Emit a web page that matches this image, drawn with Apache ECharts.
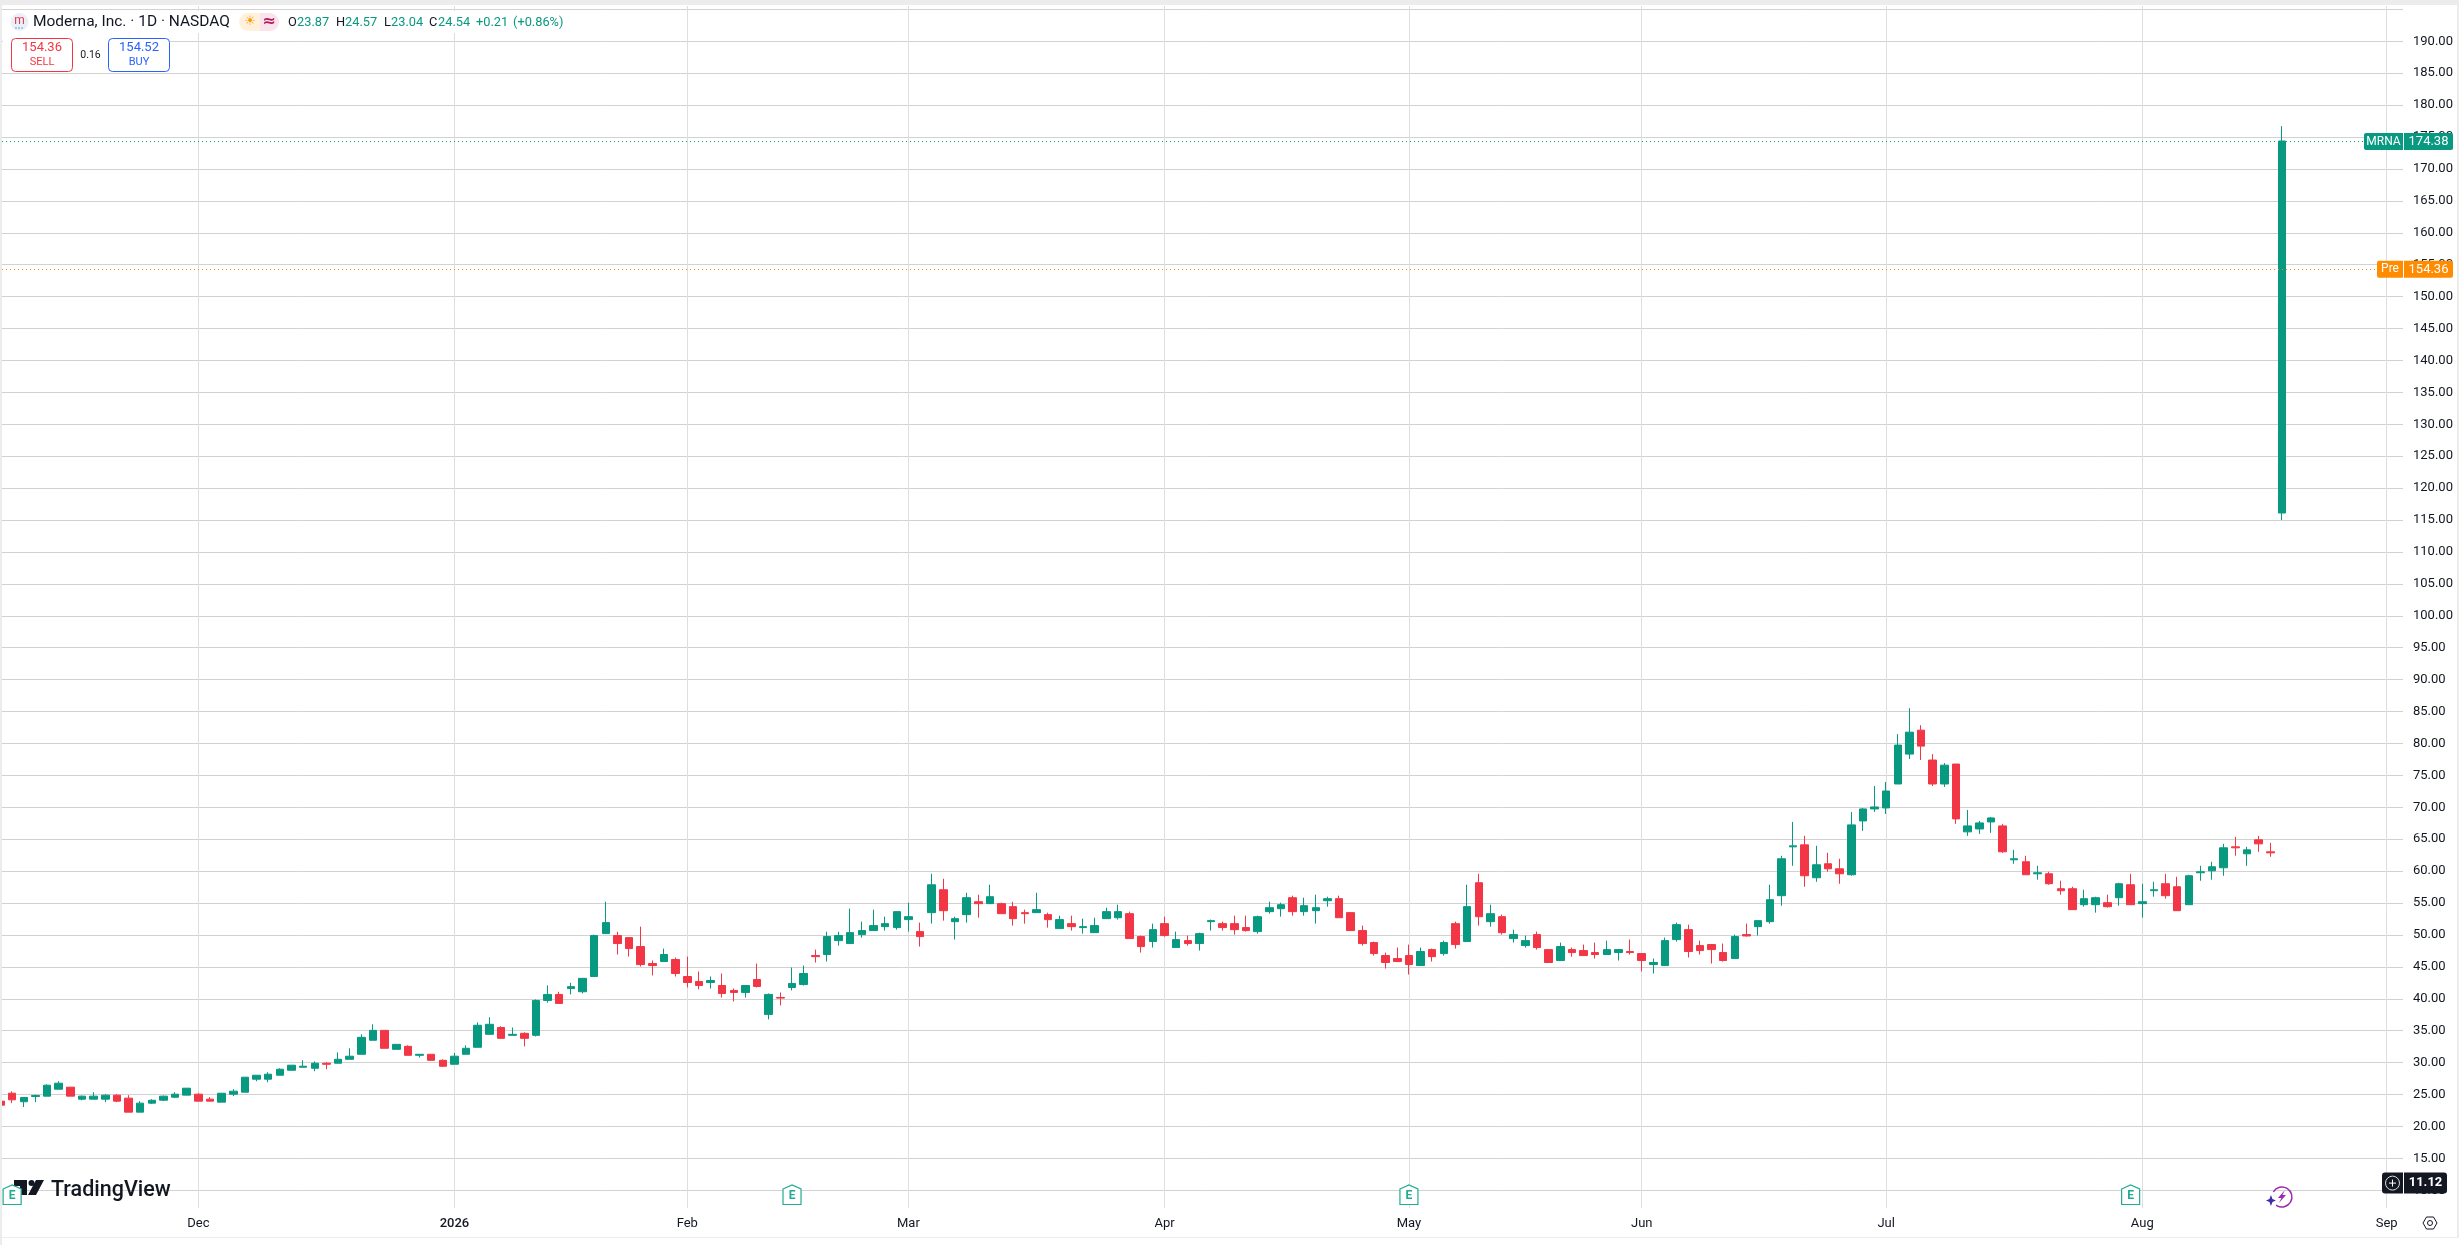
<!DOCTYPE html>
<html><head><meta charset="utf-8">
<style>html,body{margin:0;padding:0;background:#fff;overflow:hidden}#c{width:2459px;height:1245px}</style>
<script src="https://cdn.jsdelivr.net/npm/echarts@6/dist/echarts.min.js"></script>
</head><body><div id="c"></div>
<script>
const opens=[23.96,25.2,23.87,24.69,24.74,25.83,26.15,24.27,24.27,24.27,
24.9,24.43,22.24,23.65,24.11,24.58,24.9,25.05,24.27,23.8,
25.05,25.36,27.4,27.4,28.02,28.8,29.27,29.11,29.9,29.9,
30.52,31.3,33.5,35.05,32.08,32.55,31.14,31.3,30.36,29.74,
31.3,32.4,34.43,35.5,34.27,34.58,34.27,39.74,40.68,41.6,
41.1,43.49,50.21,49.9,49.58,48.18,45.52,45.83,46.15,43.49,
42.7,42.55,42.08,41.3,40.99,43.02,37.55,40.2,41.77,42.24,
46.77,46.93,49.11,48.65,50.05,50.68,51.3,51.15,52.4,50.52,
53.49,57.08,52.08,53.18,55.2,54.9,54.9,54.43,53.49,53.49,
53.18,50.99,51.77,51.15,50.36,52.55,52.7,53.33,49.74,48.96,
51.77,48.02,49.11,48.65,52.08,51.77,51.77,51.15,50.52,53.65,
54.11,55.83,53.65,53.8,55.36,55.68,53.49,50.68,48.8,46.77,
46.3,46.77,45.2,47.7,47.08,51.77,48.96,58.18,52.08,52.86,
49.43,48.33,50.05,47.7,45.99,47.7,47.55,47.24,46.93,47.24,
47.4,47.08,45.36,45.2,49.27,50.83,48.33,48.49,47.24,46.3,
50.05,51.3,52.08,56.15,63.8,64.11,58.96,61.15,60.36,59.43,
67.86,69.74,69.9,73.65,78.33,82.08,77.4,73.65,76.77,66.15,
66.6,67.7,67.08,61.77,61.46,59.58,59.58,57.24,57.24,54.74,
54.74,55.05,55.83,57.86,54.9,56.93,58.02,57.55,54.74,59.74,
60.05,60.52,63.8,62.71,64.9,63.02,116.1];
const closes=[23.33,24.17,24.54,24.85,26.46,26.77,24.74,24.74,24.74,24.9,
23.96,22.24,23.65,24.1,24.74,25.05,25.99,23.96,23.96,25.2,
25.52,27.71,28.02,28.18,28.96,29.59,29.43,29.9,29.74,30.52,
31.0,33.96,35.05,32.24,32.86,31.14,31.3,30.36,29.43,31.0,
32.24,35.85,36.0,33.8,34.43,33.8,39.74,40.68,39.27,41.9,
43.2,49.9,51.93,48.65,47.86,45.36,45.2,46.93,43.96,42.55,
42.08,42.86,40.83,40.99,42.08,41.93,40.68,40.1,42.4,43.96,
46.6,49.74,49.9,50.36,50.68,51.46,51.77,53.65,52.86,49.74,
57.86,53.8,52.55,55.83,54.9,55.99,53.33,52.55,53.33,53.96,
52.4,52.4,51.3,51.3,51.46,53.65,53.65,49.43,48.18,50.83,
49.9,49.27,48.65,50.2,52.24,51.15,50.83,50.68,52.86,54.27,
54.74,53.65,54.58,54.27,55.68,52.7,50.68,48.65,47.08,45.68,
45.83,45.36,47.4,46.6,48.8,48.49,54.43,52.86,53.33,50.36,
50.05,49.11,48.02,45.68,48.18,47.24,46.77,46.93,47.7,47.7,
47.24,45.99,45.68,49.11,51.61,47.4,47.55,47.7,45.99,49.74,
49.84,52.24,55.52,61.93,63.96,59.27,60.99,60.36,59.58,67.24,
69.74,70.05,72.55,79.74,81.77,79.58,73.65,76.6,68.18,67.08,
67.55,68.33,63.02,61.93,59.43,59.74,58.02,56.93,53.96,55.68,
55.83,54.43,58.02,54.74,55.2,57.08,56.15,53.8,59.27,59.9,
60.68,63.65,63.65,63.33,64.27,62.86,174.38];
const highs=[23.96,25.5,24.57,25.0,26.6,27.08,26.15,24.84,25.36,25.05,
25.05,24.9,23.96,24.27,24.84,25.36,25.99,25.2,24.58,25.2,
25.83,27.71,28.02,28.49,29.11,29.59,30.36,30.2,30.05,31.6,
32.24,34.43,36.0,35.05,32.86,32.7,31.3,31.3,30.5,31.5,
32.7,36.3,37.1,35.7,35.5,34.74,39.9,42.1,41.1,42.5,
43.2,50.05,55.2,50.5,49.58,51.3,45.99,47.86,46.46,46.6,
44.27,43.49,43.96,41.6,42.08,45.52,40.83,40.99,44.9,45.2,
47.7,50.5,50.5,54.11,52.08,53.96,52.86,53.65,55.05,51.93,
59.58,58.8,52.86,56.6,56.3,57.86,55.05,55.2,53.96,56.6,
53.49,53.02,53.02,52.55,52.7,54.27,54.74,53.65,49.9,51.77,
52.86,50.52,49.9,50.36,52.4,52.08,53.02,53.02,53.02,55.2,
55.05,56.15,55.83,56.3,55.99,56.15,53.49,51.46,48.96,47.24,
48.02,48.49,48.02,47.86,49.11,52.08,57.86,59.58,54.74,53.18,
50.83,49.9,50.52,47.7,48.8,48.02,48.49,48.8,49.11,47.7,
49.27,47.08,46.3,49.58,51.93,51.61,49.11,48.49,48.65,50.05,
51.77,52.24,57.86,62.4,67.7,65.52,63.96,62.86,61.93,69.27,
69.9,73.33,73.96,81.46,85.52,82.86,78.33,76.93,76.77,69.58,
67.86,68.49,67.4,63.33,62.4,60.83,59.9,58.49,57.55,57.08,
55.99,56.3,58.18,59.58,58.02,58.33,59.58,59.11,59.43,60.83,
61.46,64.27,65.36,63.8,65.52,64.43,176.7];
const lows=[23.33,23.65,23.04,23.8,24.74,25.83,24.74,24.1,24.27,23.8,
23.8,22.24,22.24,23.5,23.96,24.43,24.9,23.96,23.96,23.8,
24.74,25.36,27.08,26.93,28.02,28.8,29.27,28.65,28.96,29.9,
30.52,31.3,33.5,32.24,32.08,31.14,30.8,30.36,29.3,29.74,
31.3,32.4,34.43,33.8,34.27,32.55,34.1,39.4,39.27,40.68,
40.83,43.49,50.21,46.93,46.6,45.05,43.65,45.83,43.49,41.77,
41.46,41.6,40.2,39.58,40.2,41.77,36.77,38.96,41.3,42.08,
45.68,45.83,48.33,48.65,49.58,50.68,50.68,50.83,50.52,48.18,
51.77,52.24,49.27,51.93,52.7,54.9,53.33,51.46,51.77,53.49,
51.15,50.99,50.68,50.2,50.36,52.55,52.4,49.43,47.24,48.02,
49.74,48.02,48.33,47.55,50.68,50.68,50.05,50.52,50.2,53.33,
52.86,53.02,53.02,51.77,54.43,52.7,50.68,48.33,46.77,44.74,
45.83,43.8,45.2,45.83,46.77,47.86,48.96,51.46,51.3,50.05,
48.8,48.02,47.7,45.68,45.99,46.6,46.77,46.3,46.93,45.99,
46.93,44.27,43.96,45.2,48.96,46.46,46.93,45.52,45.83,46.3,
49.74,49.9,51.77,54.58,60.83,57.55,58.33,59.9,58.02,59.27,
66.3,69.27,68.96,73.65,77.55,77.4,73.33,73.18,67.4,65.52,
65.83,65.99,62.86,61.15,59.43,58.65,57.86,56.3,53.96,54.43,
53.49,54.27,54.58,54.74,52.7,55.99,55.68,53.8,54.74,58.49,
58.65,59.27,62.4,60.83,63.02,62.24,115.0];
const monthIndex=[17,39,59,78,100,121,141,162,184,205];
const monthLabels=['Dec','2026','Feb','Mar','Apr','May','Jun','Jul','Aug','Sep'];
const priceLines=[10,15,20,25,30,35,40,45,50,55,60,65,70,75,80,85,90,95,100,105,110,115,120,125,130,135,140,145,150,155,160,165,170,175,180,185,190,195];
const priceLabels=priceLines.slice(0,-1);
const lastPrice=174.38, prePrice=154.36, crossPrice=11.12;
const earningsIndex=[1,68,121,183];

const candles=opens.map((o,i)=>[i,o,closes[i],lows[i],highs[i]]);
const UP='#089981',DOWN='#F23645',PRE='#FF8C00',INK='#131722';
const FONT='Roboto, "Liberation Sans", sans-serif';
const chart=echarts.init(document.getElementById('c'),null,{renderer:'canvas'});
chart.setOption({
 animation:false,backgroundColor:'#ffffff',
 grid:{left:2,right:56,top:6,bottom:37},
 xAxis:{type:'value',min:0.129,max:206.4,
  axisLine:{show:false},
  axisTick:{show:false,customValues:monthIndex},
  splitLine:{show:true,lineStyle:{color:'#dedede',width:1}},
  axisLabel:{customValues:monthIndex,margin:9,color:INK,fontSize:13,fontFamily:FONT,
    formatter:v=>{const s=monthLabels[monthIndex.indexOf(v)]||'';return /^\d/.test(s)?`{y|${s}}`:s;},
    rich:{y:{fontWeight:500,fontSize:13,color:INK,fontFamily:FONT}},
    showMinLabel:true,showMaxLabel:true}},
 yAxis:{type:'value',position:'right',min:7.22,max:195.53,
  axisLine:{show:false},
  axisTick:{show:false,customValues:priceLines},
  splitLine:{show:true,lineStyle:{color:'#d2d2d2',width:1}},
  axisLabel:{customValues:priceLabels,margin:10,color:INK,fontSize:13,fontFamily:FONT,
    formatter:v=>v.toFixed(2)}},
 series:[{type:'candlestick',data:candles,barWidth:8,
  itemStyle:{color:UP,color0:DOWN,borderColor:UP,borderColor0:DOWN,borderWidth:1},
  markLine:{silent:true,symbol:'none',label:{show:false},animation:false,
   data:[{yAxis:lastPrice,lineStyle:{color:UP,type:[1,3],width:1}},
         {yAxis:prePrice,lineStyle:{color:PRE,type:[1,3],width:1}}]}}]
});
const T=(text,x,y,fill,size,o={})=>({type:'text',z:o.z||50,style:{text,x,y,fill,font:`${o.weight||'normal'} ${size}px ${o.family||FONT}`,
  align:o.align||'left',textAlign:o.align||'left',verticalAlign:'middle',textVerticalAlign:'middle'}});
const R=(x,y,w,h,fill,o={})=>({type:'rect',z:o.z||40,shape:{x,y,width:w,height:h,r:o.r||0},style:{fill,stroke:o.stroke||null,lineWidth:o.lw||1}});
const g=[];
const yLast=chart.convertToPixel({yAxisIndex:0},lastPrice)+0.5;
const yPre=chart.convertToPixel({yAxisIndex:0},prePrice)+0.5;
const yCross=chart.convertToPixel({yAxisIndex:0},crossPrice);
// window frame
g.push(R(0,0,2459,5,'#ececec'),R(0,0,2,1245,'#ececec'),R(2457,0,2,1237,'#ececec'),R(0,1237,2459,1,'#ececec'));
// header
g.push(R(3,11,567,22,'#ffffff',{z:41}));
g.push({type:'circle',z:42,shape:{cx:19.5,cy:22,r:9},style:{fill:'#e9f0f8'}});
g.push(T('m',19.5,21,'#e8384f',12,{align:'center',z:43}));
g.push({type:'line',z:43,shape:{x1:15,y1:28,x2:24,y2:28},style:{stroke:'#5aa9e6',lineWidth:1,lineDash:[2,1]}});
g.push(T('Moderna, Inc. · 1D · NASDAQ',33,22.5,INK,15.5));
g.push(R(239,13,21,18,'#fff1dc',{r:[9,0,0,9],z:42}),R(260,13,19,18,'#fbe3ec',{r:[0,9,9,0],z:42}));
g.push(T('☀',250,22,'#ff9800',13,{align:'center',family:'"DejaVu Sans"'}));
g.push(T('≈',269,22,'#b0185c',16,{align:'center',weight:'bold',family:'"DejaVu Sans"'}));
[['O',288,INK],['23.87',297,UP],['H',336,INK],['24.57',345,UP],['L',384,INK],['23.04',391,UP],['C',429,INK],['24.54',438,UP],['+0.21',476,UP],['(+0.86%)',513,UP]]
 .forEach(a=>g.push(T(a[0],a[1],22.5,a[2],12.8)));
// order buttons
g.push(R(3,37,167,36,'#ffffff',{z:41}));
g.push(R(11.5,38.5,61,33,'#ffffff',{r:4,stroke:DOWN,z:42}),R(108.5,38.5,61,33,'#ffffff',{r:4,stroke:'#2962FF',z:42}));
g.push(T('154.36',42,48,DOWN,13,{align:'center'}),T('SELL',42,62.5,DOWN,11,{align:'center'}));
g.push(T('0.16',90.5,55,INK,10.5,{align:'center'}));
g.push(T('154.52',139,48,'#2962FF',13,{align:'center'}),T('BUY',139,62.5,'#2962FF',11,{align:'center'}));
// price tags
const tag=(name,val,y,color,nameX)=>{
 g.push(R(nameX,y-8.5,2403-nameX,17,color,{r:[2,0,0,2],z:60}),R(2404,y-8.5,49,17,color,{r:[0,2,2,0],z:60}));
 g.push(T(name,(nameX+2403)/2,y,'#ffffff',12,{align:'center',z:61}),T(val,2428.5,y,'#ffffff',13,{align:'center',z:61}));
};
tag('MRNA','174.38',yLast,UP,2364);
tag('Pre','154.36',yPre,PRE,2377);
g.push(R(2382,yCross-10.5,21,21,'#131722',{r:[3,0,0,3],z:60}),R(2404,yCross-10.5,43,21,'#131722',{r:[0,3,3,0],z:60}));
g.push({type:'circle',z:61,shape:{cx:2392.5,cy:yCross,r:7},style:{fill:'none',stroke:'#dddddd',lineWidth:1}});
g.push({type:'line',z:61,shape:{x1:2389,y1:yCross,x2:2396,y2:yCross},style:{stroke:'#fff',lineWidth:1}},{type:'line',z:61,shape:{x1:2392.5,y1:yCross-3.5,x2:2392.5,y2:yCross+3.5},style:{stroke:'#fff',lineWidth:1}});
g.push(T('11.12',2425.5,yCross,'#ffffff',13,{align:'center',z:61,weight:'bold'}));
// TradingView logo
const L=INK;
g.push({type:'polygon',z:45,shape:{points:[[14,1180],[27,1180],[27,1195],[20,1195],[20,1186],[14,1186]]},style:{fill:L}});
g.push({type:'circle',z:45,shape:{cx:31.5,cy:1183,r:3},style:{fill:L}});
g.push({type:'polygon',z:45,shape:{points:[[36,1180],[44,1180],[36,1195],[28,1195]]},style:{fill:L}});
g.push(T('TradingView',51,1190.5,L,21.5,{weight:'500',z:45}));
// earnings markers
earningsIndex.forEach(i=>{
 const x=chart.convertToPixel({xAxisIndex:0},i);
 g.push({type:'polygon',z:46,shape:{points:[[x-9,1189],[x,1185],[x+9,1189],[x+9,1204.5],[x-9,1204.5]]},style:{fill:'#fff',stroke:'#22AB94',lineWidth:1.2}});
 g.push(T('E',x,1196,'#22AB94',12,{align:'center',weight:'bold',z:47}));
});
// lightning badge
const bx=chart.convertToPixel({xAxisIndex:0},196);
g.push({type:'arc',z:46,shape:{cx:bx,cy:1197,r:10,startAngle:-2.6,endAngle:2.2},style:{fill:'none',stroke:'#9C27B0',lineWidth:1.4}});
g.push({type:'polygon',z:46,shape:{points:[[bx+3,1190],[bx-4,1198],[bx-0.5,1198],[bx-3,1203],[bx+4,1195],[bx+0.5,1195]]},style:{fill:'#9C27B0'}});
g.push({type:'polygon',z:46,shape:{points:[[bx-11,1195],[bx-9.5,1199],[bx-6,1200.5],[bx-9.5,1202],[bx-11,1206],[bx-12.5,1202],[bx-16,1200.5],[bx-12.5,1199]]},style:{fill:'#3f2da8'}});
// settings hexagon
g.push({type:'polygon',z:46,shape:{points:[[2423,1223],[2426.5,1217],[2433.5,1217],[2437,1223],[2433.5,1229],[2426.5,1229]]},style:{fill:'none',stroke:INK,lineWidth:1}});
g.push({type:'circle',z:46,shape:{cx:2430,cy:1223,r:2.5},style:{fill:'none',stroke:INK,lineWidth:1}});
chart.setOption({graphic:{elements:g}});
</script></body></html>
